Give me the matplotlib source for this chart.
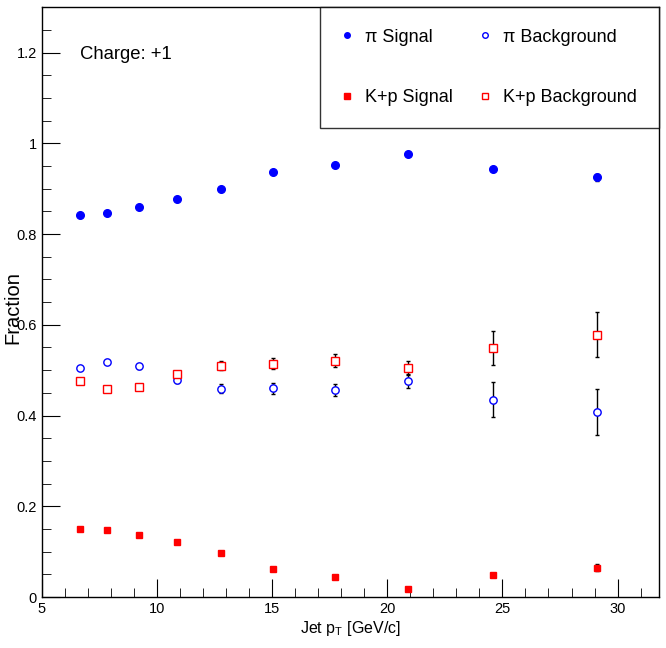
import numpy as np
import matplotlib
matplotlib.use('Agg')
import matplotlib.pyplot as plt
from matplotlib.ticker import MultipleLocator
from matplotlib.lines import Line2D

plt.rcParams['font.family'] = ['Liberation Sans', 'DejaVu Sans']

# Jet pT bin centres
jet_pt = [6.65, 7.83, 9.22, 10.87, 12.78, 15.04, 17.74, 20.91, 24.6, 29.1]

# fractions
pi_sig = [0.842, 0.846, 0.859, 0.877, 0.899, 0.936, 0.952, 0.976, 0.943, 0.925]
pi_sig_err = [0.002, 0.002, 0.002, 0.002, 0.003, 0.003, 0.003, 0.004, 0.005, 0.008]
pi_bkg = [0.504, 0.519, 0.508, 0.478, 0.459, 0.460, 0.457, 0.476, 0.435, 0.408]
pi_bkg_err = [0.004, 0.004, 0.005, 0.006, 0.010, 0.012, 0.013, 0.015, 0.038, 0.050]
kp_sig = [0.149, 0.147, 0.137, 0.122, 0.098, 0.061, 0.044, 0.017, 0.048, 0.065]
kp_sig_err = [0.002, 0.002, 0.002, 0.002, 0.003, 0.003, 0.003, 0.004, 0.005, 0.007]
kp_bkg = [0.476, 0.458, 0.463, 0.491, 0.510, 0.514, 0.521, 0.505, 0.549, 0.578]
kp_bkg_err = [0.004, 0.004, 0.005, 0.006, 0.010, 0.012, 0.014, 0.015, 0.038, 0.050]

fig = plt.figure(figsize=(6.66, 6.48), dpi=100)
ax = fig.add_axes([0.063, 0.0787, 0.9265, 0.9103])

err_kw = dict(ls='none', ecolor='black', elinewidth=1.0, capsize=1.5, capthick=1.0)
ax.errorbar(jet_pt, pi_sig, yerr=pi_sig_err, marker='o', ms=5.5, mfc='blue', mec='blue', **err_kw)
ax.errorbar(jet_pt, pi_bkg, yerr=pi_bkg_err, marker='o', ms=5.3, mfc='white', mec='blue',
            mew=1.0, **err_kw)
ax.errorbar(jet_pt, kp_sig, yerr=kp_sig_err, marker='s', ms=5, mfc='red', mec='red', **err_kw)
ax.errorbar(jet_pt, kp_bkg, yerr=kp_bkg_err, marker='s', ms=5.2, mfc='white', mec='red',
            mew=1.0, **err_kw)

ax.set_xlim(5, 31.8)
ax.set_ylim(0, 1.3)
ax.xaxis.set_major_locator(MultipleLocator(5))
ax.xaxis.set_minor_locator(MultipleLocator(1))
ax.yaxis.set_major_locator(MultipleLocator(0.2))
ax.yaxis.set_minor_locator(MultipleLocator(0.05))
ax.yaxis.set_major_formatter(plt.FuncFormatter(lambda v, p: '%g' % round(v, 2)))
ax.tick_params(which='both', direction='in', top=False, right=False, labelsize=10.5)
ax.tick_params(which='major', length=13)
ax.tick_params(which='minor', length=6.5)
for s in ax.spines.values():
    s.set_linewidth(1.0)

ax.set_xlabel(r'Jet p$_{\mathregular{T}}$ [GeV/c]', fontsize=11.5, labelpad=2)
ax.set_ylabel('Fraction', fontsize=14.5)
ax.yaxis.set_label_coords(-0.031, 0.49)

ax.text(6.65, 1.196, 'Charge: +1', fontsize=13.3, va='center')

# legend, filled row by row like the reference
handles = [
    Line2D([], [], ls='none', marker='o', ms=4, mfc='blue', mec='blue'),
    Line2D([], [], ls='none', marker='s', ms=4, mfc='red', mec='red'),
    Line2D([], [], ls='none', marker='o', ms=4, mfc='white', mec='blue'),
    Line2D([], [], ls='none', marker='s', ms=4, mfc='white', mec='red'),
]
labels = ['\u03c0 Signal', 'K+p Signal', '\u03c0 Background', 'K+p Background']
leg = ax.legend(handles, labels, loc='upper right', ncol=2, fontsize=13, frameon=True,
                fancybox=False, edgecolor='black', borderaxespad=0, handletextpad=0.7,
                columnspacing=1.5, labelspacing=2.4, borderpad=1.2, handlelength=0.6)
leg.get_frame().set_linewidth(1.0)

fig.savefig('out.png', dpi=100)
